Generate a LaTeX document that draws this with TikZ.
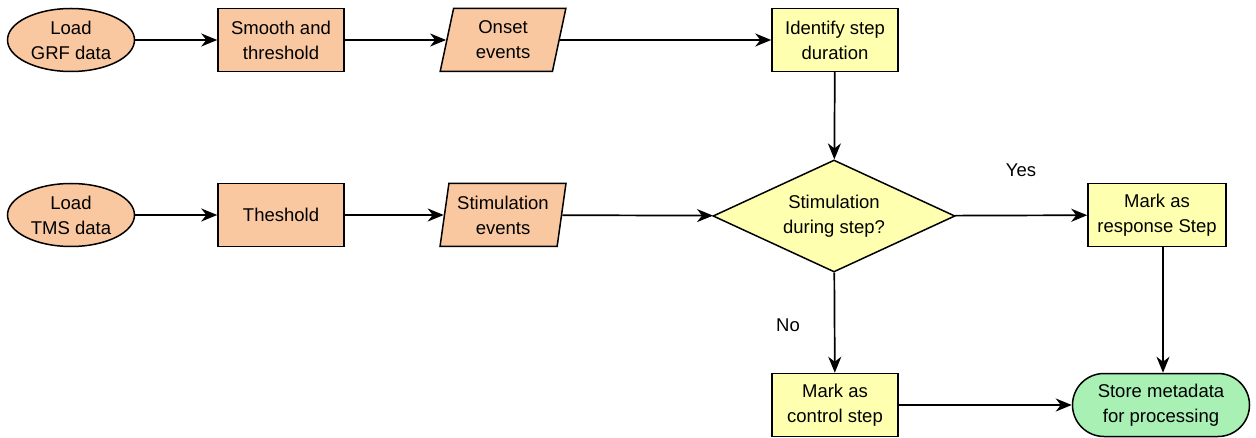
\documentclass[tikz,border=0pt]{standalone}
\usepackage{fontspec}
\setmainfont{Liberation Sans}
\usetikzlibrary{shapes.geometric,shapes.misc,arrows.meta}
\definecolor{peach}{HTML}{F9C8A0}
\definecolor{paleyellow}{HTML}{FFFFB0}
\definecolor{palegreen}{HTML}{A8F0B4}
\tikzset{
  base/.style={draw=black, line width=1.5pt, font=\fontsize{18.5}{25}\selectfont, align=center, inner sep=0pt},
  oval/.style={base, ellipse, fill=peach, minimum width=127pt, minimum height=63pt},
  procbox/.style={base, rectangle, fill=peach, minimum width=126pt, minimum height=63pt},
  databox/.style={base, trapezium, trapezium left angle=79, trapezium right angle=101, trapezium stretches=true, fill=peach, minimum width=126pt, minimum height=63pt},
  ybox/.style={base, rectangle, fill=paleyellow, minimum width=126pt, minimum height=63pt},
  decision/.style={base, diamond, fill=paleyellow, minimum width=242pt, minimum height=112pt, aspect=2.16},
  terminal/.style={base, rounded rectangle, fill=palegreen, minimum width=177pt, minimum height=63pt},
  conn/.style={line width=1.7pt, -{Stealth[length=16pt,width=13pt,inset=5pt]}},
  lbl/.style={font=\fontsize{18.5}{22}\selectfont}
}
\begin{document}
\begin{tikzpicture}[x=1pt,y=-1pt]
\useasboundingbox (0,0) rectangle (1256,438);
\node[oval] (grf) at (71,40) {Load\\GRF data};
\node[procbox] (smooth) at (281,40) {Smooth and\\threshold};
\node[databox] (onset) at (503,40) {Onset\\events};
\node[ybox] (ident) at (835,40) {Identify step\\duration};
\node[oval] (tms) at (71,215) {Load\\TMS data};
\node[procbox] (thr) at (281,215) {Theshold};
\node[databox] (stim) at (503,215) {Stimulation\\events};
\node[decision] (dec) at (834,216) {Stimulation\\during step?};
\node[ybox, minimum width=138pt] (resp) at (1157,215) {Mark as\\response Step};
\node[ybox] (ctrl) at (835,405) {Mark as\\control step};
\node[terminal] (store) at (1161,405) {Store metadata\\for processing};
\node[lbl] (yes) at (1021,170) {Yes};
\node[lbl] (no) at (788,325) {No};
\draw[conn] (grf) -- (smooth);
\draw[conn] (smooth) -- (onset);
\draw[conn] (onset) -- (ident);
\draw[conn] (tms) -- (thr);
\draw[conn] (thr) -- (stim);
\draw[conn] (stim) -- (dec);
\draw[conn] (ident) -- (dec);
\draw[conn] (dec) -- (resp);
\draw[conn] (dec) -- (ctrl);
\draw[conn] (ctrl) -- (store);
\draw[conn] (resp.south -| 1163,0) -- (store.north -| 1163,0);
\end{tikzpicture}
\end{document}
